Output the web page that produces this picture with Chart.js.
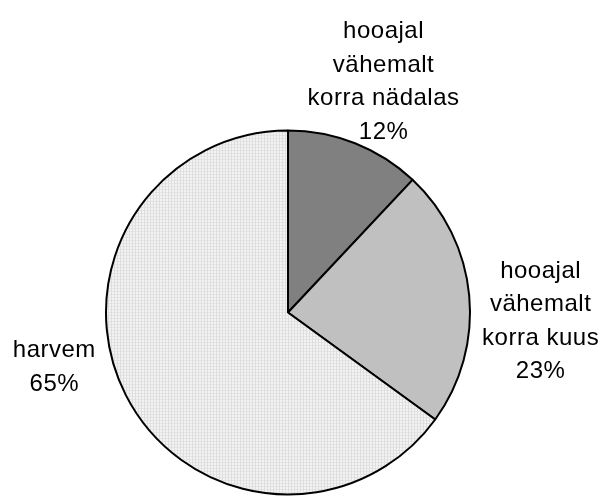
<!DOCTYPE html>
<html>
<head>
<meta charset="utf-8">
<script src="https://cdn.jsdelivr.net/npm/chart.js@4/dist/chart.umd.min.js"></script>
<style>
    html, body { margin: 0; padding: 0; background: #fff; }
    #wrap { width: 603px; height: 496px; }
</style>
</head>
<body>
<div id="wrap"><canvas id="pieChart" width="603" height="496"></canvas></div>
<script>
// Data
const categories = [
    ['hooajal', 'vähemalt', 'korra nädalas'],
    ['hooajal', 'vähemalt', 'korra kuus'],
    ['harvem']
];
const shares = [12, 23, 65];

// dotted fill for the big slice
function makeDots() {
    const c = document.createElement('canvas');
    c.width = 3;
    c.height = 3;
    const g = c.getContext('2d');
    g.fillStyle = '#f3f3f3';
    g.fillRect(0, 0, 3, 3);
    g.fillStyle = '#dedede';
    g.fillRect(0, 0, 1, 3);
    g.fillStyle = '#e4e4e4';
    g.fillRect(1, 0, 2, 1);
    return g.createPattern(c, 'repeat');
}

const ctx = document.getElementById('pieChart').getContext('2d');

// where each label sits, relative to pie centre, in units of radius (first baseline)
const labelPos = [
    { x: 0.525, y: -1.508 },
    { x: 1.388, y: -0.191 },
    { x: -1.284, y: 0.246 }
];

const pieLabels = {
    id: 'pieLabels',
    afterDraw(chart) {
        const meta = chart.getDatasetMeta(0);
        const c = chart.ctx;
        c.save();
        c.font = '24px "Liberation Sans", Arial, sans-serif';
        if ('letterSpacing' in c) c.letterSpacing = '0.5px';
        c.fillStyle = '#000';
        c.textAlign = 'center';
        c.textBaseline = 'alphabetic';
        meta.data.forEach((arc, i) => {
            const r = arc.outerRadius;
            const x = arc.x + labelPos[i].x * r;
            let y = arc.y + labelPos[i].y * r;
            const lines = categories[i].concat([shares[i] + '%']);
            lines.forEach(line => {
                c.fillText(line, x, y);
                y += 33.5;
            });
        });
        c.restore();
    }
};

new Chart(ctx, {
    type: 'pie',
    data: {
        labels: categories.map(l => l.join(' ')),
        datasets: [{
            data: shares,
            backgroundColor: ['#808080', '#c0c0c0', makeDots()],
            borderColor: '#000',
            borderWidth: 2
        }]
    },
    options: {
        responsive: false,
        animation: false,
        layout: {
            padding: { left: 105, right: 132, top: 129, bottom: 0 }
        },
        plugins: {
            legend: { display: false },
            tooltip: { enabled: false }
        }
    },
    plugins: [pieLabels]
});
</script>
</body>
</html>
